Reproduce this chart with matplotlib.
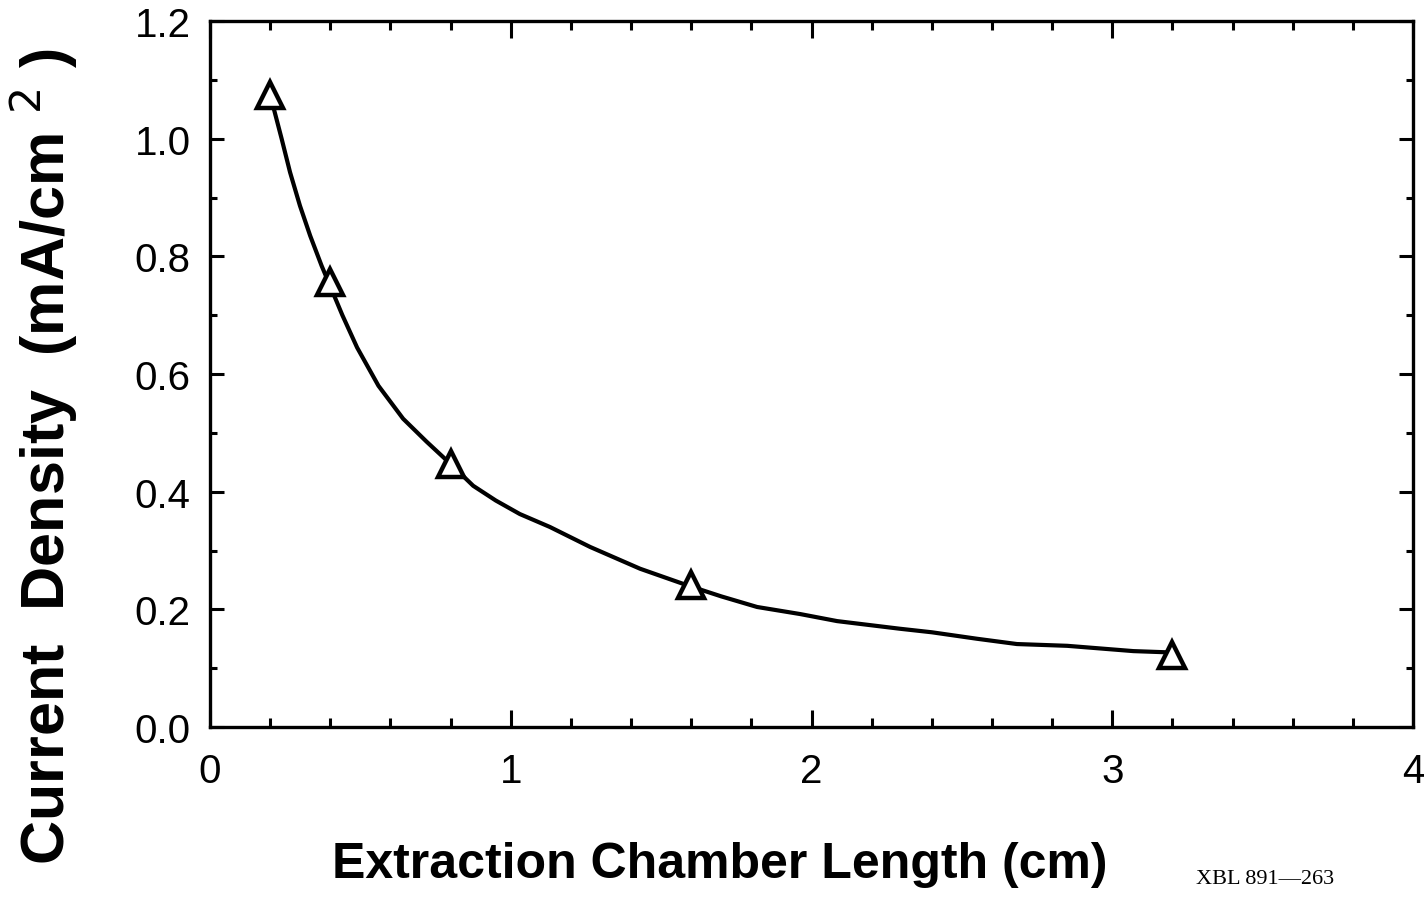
import numpy as np
import matplotlib
matplotlib.use("Agg")
import matplotlib.pyplot as plt

# measured points (triangles)
length_cm = [0.2, 0.4, 0.8, 1.6, 3.2]
density = [1.075, 0.756, 0.447, 0.241, 0.122]

# hand-drawn curve
curve_x = [0.2, 0.211, 0.238, 0.266, 0.299, 0.333, 0.371, 0.399, 0.44, 0.489, 0.56,
           0.642, 0.72, 0.8, 0.875, 0.95, 1.03, 1.13, 1.264, 1.43, 1.586, 1.70,
           1.819, 1.962, 2.085, 2.294, 2.40, 2.55, 2.683, 2.85, 3.07, 3.18]
curve_y = [1.07, 1.053, 1.0, 0.943, 0.886, 0.835, 0.784, 0.750, 0.70, 0.645, 0.58,
           0.524, 0.485, 0.447, 0.41, 0.385, 0.362, 0.34, 0.306, 0.269, 0.241, 0.222,
           0.204, 0.192, 0.18, 0.167, 0.161, 0.15, 0.141, 0.138, 0.129, 0.127]

x_ticks = [0, 1, 2, 3, 4]
y_ticks = [0.0, 0.2, 0.4, 0.6, 0.8, 1.0, 1.2]

plt.rcParams['font.family'] = ['Liberation Sans', 'DejaVu Sans']

fig = plt.figure(figsize=(14.24, 9.03), dpi=100)
ax = fig.add_axes([0.1475, 0.1938, 0.9923 - 0.1475, 0.9756 - 0.1938])

ax.plot(curve_x, curve_y, color='black', lw=3, solid_capstyle='round',
        solid_joinstyle='round', zorder=2)
ax.plot(length_cm, density, linestyle='none', marker='^', markersize=19,
        markerfacecolor='white', markeredgecolor='black', markeredgewidth=3.2, zorder=3)

ax.set_xlim(0, 4)
ax.set_ylim(0, 1.2)
ax.set_xticks(x_ticks)
ax.set_xticklabels([str(v) for v in x_ticks])
ax.set_xticks(np.arange(0, 4.01, 0.2), minor=True)
ax.set_yticks(y_ticks)
ax.set_yticklabels([f'{v:.1f}' for v in y_ticks])
ax.set_yticks(np.arange(0, 1.201, 0.1), minor=True)

for s in ax.spines.values():
    s.set_linewidth(2.4)

ax.tick_params(axis='both', which='both', direction='in', top=True, right=True,
               width=2.2, labelsize=29)
ax.tick_params(axis='x', which='major', length=12, pad=18)
ax.tick_params(axis='x', which='minor', length=6.5)
ax.tick_params(axis='y', which='major', length=10, pad=14)
ax.tick_params(axis='y', which='minor', length=5)

fig.text(0.031, 1 - 457 / 903, 'Current  Density  (mA/cm $^{2}$ )',
         rotation=90, ha='center', va='center', fontsize=44, fontweight='bold')
fig.text(720 / 1424, 1 - 865 / 903, 'Extraction Chamber Length (cm)',
         ha='center', va='center', fontsize=36, fontweight='bold')
fig.text(1265 / 1424, 1 - 880 / 903, 'XBL 891\u2014263', ha='center', va='center',
         fontsize=16, family=['Liberation Serif', 'DejaVu Serif'])

fig.savefig('out.png', dpi=100)
